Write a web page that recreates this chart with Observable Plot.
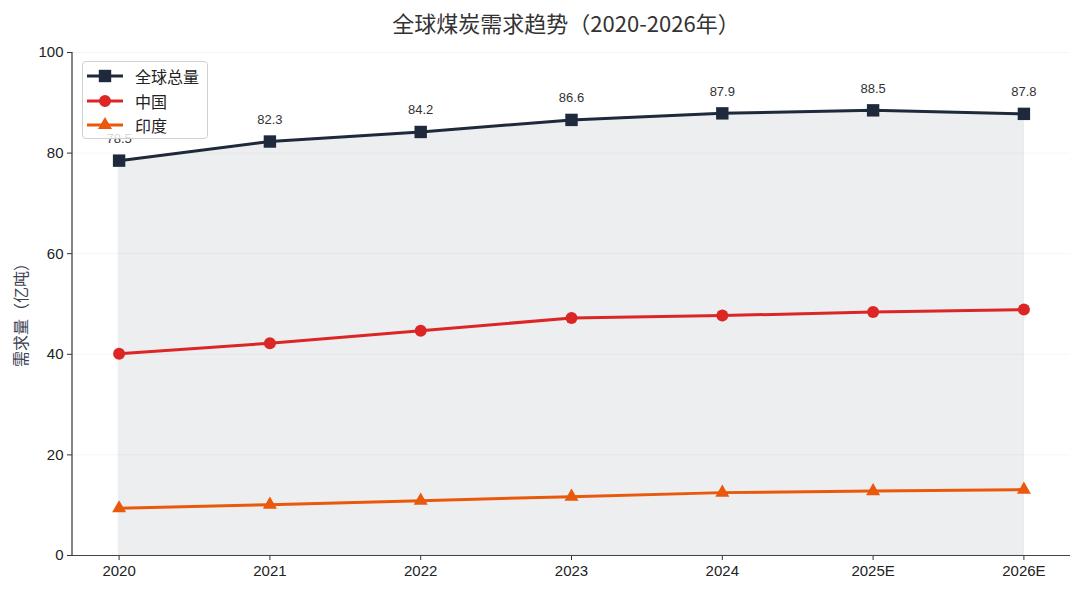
<!DOCTYPE html>
<html><head><meta charset="utf-8">
<script src="https://cdn.jsdelivr.net/npm/d3@7"></script>
<script src="https://cdn.jsdelivr.net/npm/@observablehq/plot@0.6"></script>
<style>
body{margin:0;background:#fff;}
#wrap{position:relative;width:1080px;height:591px;font-family:"Liberation Sans","Noto Sans CJK SC",sans-serif;}
#title{position:absolute;left:0;width:1132px;top:6px;text-align:center;font-size:22px;color:#333;font-family:"Noto Sans CJK SC",sans-serif;line-height:32px;}
#ylab{position:absolute;left:20px;top:311px;transform:translate(-50%,-50%) rotate(-90deg);white-space:nowrap;font-size:16px;color:#3b4252;font-family:"Noto Sans CJK SC",sans-serif;}
#legend{position:absolute;left:82px;top:61px;width:124px;height:76px;background:rgba(255,255,255,0.8);border:1px solid #d0d0d0;border-radius:4px;}
.row{position:absolute;left:3px;height:24px;display:flex;align-items:center;}
.row span{margin-left:11px;font-size:16px;color:#222;font-family:"Noto Sans CJK SC",sans-serif;}
</style></head>
<body>
<div id="wrap">
<div id="chart"></div>
<div id="title">全球煤炭需求趋势（2020-2026年）</div>
<div id="ylab">需求量（亿吨）</div>
<div id="legend"></div>
</div>
<script>
const years = ["2020","2021","2022","2023","2024","2025E","2026E"];
const globalVals = [78.5,82.3,84.2,86.6,87.9,88.5,87.8];
const chinaVals = [40.1,42.2,44.7,47.2,47.7,48.4,48.9];
const indiaVals = [9.4,10.1,10.9,11.7,12.5,12.8,13.1];
const seriesNames = ["全球总量","中国","印度"];
const seriesColors = ["#1e293b","#dc2626","#ea580c"];
const seriesSymbols = ["square","circle","triangle"];
const yTicks = [0,20,40,60,80,100];

const mk = (vals) => years.map((y,i)=>({year:y,value:vals[i]}));
const g = mk(globalVals), c = mk(chinaVals), ind = mk(indiaVals);
const font = '"Liberation Sans","Noto Sans CJK SC",sans-serif';

const leftSpine = (index, scales, values, dims) => {
  return d3.create("svg:line")
    .attr("x1", dims.marginLeft).attr("x2", dims.marginLeft)
    .attr("y1", dims.marginTop).attr("y2", dims.height - dims.marginBottom)
    .attr("stroke", "#333").attr("stroke-width", 1.2).node();
};

const chart = Plot.plot({
  width: 1080, height: 591,
  marginLeft: 72, marginRight: 10, marginTop: 52, marginBottom: 36,
  x: {type: "point", domain: years, padding: 0.309, round: false, label: null},
  y: {domain: [0,100], label: null},
  style: {fontSize: "15px", fontFamily: font, color: "#222", background: "transparent"},
  marks: [
    Plot.gridY(yTicks.slice(1), {stroke: "#000", strokeOpacity: 0.04}),
    Plot.areaY(g, {x: "year", y: "value", fill: "#1e293b", fillOpacity: 0.08, stroke: "#1e293b", strokeOpacity: 0.06}),
    Plot.line(ind, {x: "year", y: "value", stroke: seriesColors[2], strokeWidth: 3}),
    Plot.dot(ind, {x: "year", y: "value", symbol: "triangle", r: 5.2, fill: seriesColors[2], stroke: null}),
    Plot.line(c, {x: "year", y: "value", stroke: seriesColors[1], strokeWidth: 3}),
    Plot.dot(c, {x: "year", y: "value", symbol: "circle", r: 6, fill: seriesColors[1], stroke: null}),
    Plot.line(g, {x: "year", y: "value", stroke: seriesColors[0], strokeWidth: 3}),
    Plot.dot(g, {x: "year", y: "value", symbol: "square", r: 7, fill: seriesColors[0], stroke: null}),
    Plot.text(g, {x: "year", y: "value", text: d => d.value.toFixed(1), dy: -22, fontSize: 13, fill: "#333"}),
    Plot.axisX({tickSize: 5, tickPadding: 5, fontSize: 15, stroke: "#333"}),
    Plot.axisY({ticks: yTicks, tickSize: 5, tickPadding: 4, fontSize: 15, stroke: "#333"}),
    Plot.ruleY([0], {stroke: "#444", strokeWidth: 1.2}),
    leftSpine
  ]
});
document.getElementById("chart").appendChild(chart);

// legend
const leg = document.getElementById("legend");
seriesNames.forEach((name, i) => {
  const row = document.createElement("div");
  row.className = "row";
  row.style.top = (2 + i * 24.5) + "px";
  const svg = d3.create("svg").attr("width", 38).attr("height", 20);
  svg.append("line").attr("x1", 1).attr("x2", 37).attr("y1", 10).attr("y2", 10)
    .attr("stroke", seriesColors[i]).attr("stroke-width", 3);
  const sym = {square: d3.symbolSquare, circle: d3.symbolCircle, triangle: d3.symbolTriangle}[seriesSymbols[i]];
  const size = [154, 113, 85][i];
  svg.append("path").attr("transform", "translate(19,10)").attr("d", d3.symbol(sym, size)()).attr("fill", seriesColors[i]);
  row.appendChild(svg.node());
  const s = document.createElement("span");
  s.textContent = name;
  row.appendChild(s);
  leg.appendChild(row);
});
</script>
</body></html>
